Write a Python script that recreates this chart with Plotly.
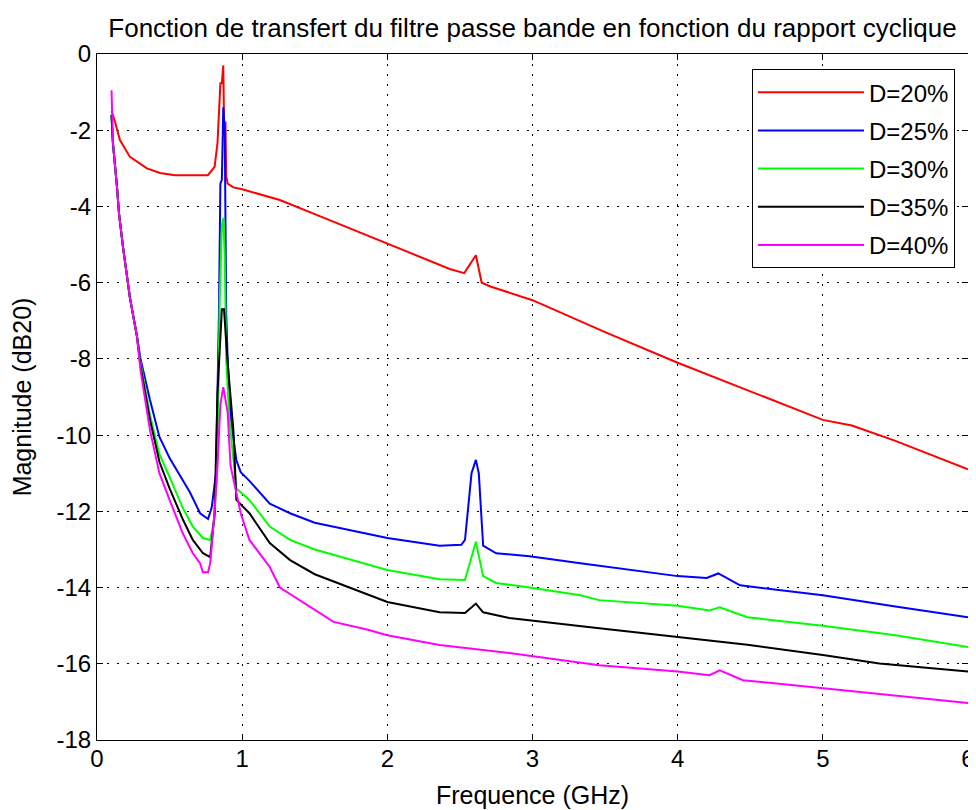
import plotly.graph_objects as go

# Frequence (GHz) / Magnitude (dB20)
freq_20 = [0.1, 0.124, 0.158, 0.227, 0.344, 0.434, 0.537, 0.764, 0.81, 0.83, 0.85, 0.86, 0.87, 0.875,
           0.885, 0.89, 0.9, 0.94, 1.0, 1.12, 1.26, 1.5, 2.0, 2.43, 2.53, 2.61, 2.65, 2.71, 3.0, 3.5,
           4.0, 4.5, 5.0, 5.2, 5.5, 6.0]
mag_20 = [-1.5, -1.78, -2.26, -2.7, -3.0, -3.12, -3.18, -3.18, -2.96, -2.34, -0.77, -0.77, -0.3, -1.8,
          -1.8, -3.2, -3.4, -3.5, -3.55, -3.67, -3.83, -4.2, -4.98, -5.64, -5.75, -5.28, -6.0, -6.1, -6.46, -7.3,
          -8.1, -8.85, -9.6, -9.75, -10.15, -10.9]

freq_25 = [0.1, 0.11, 0.138, 0.152, 0.179, 0.227, 0.275, 0.3, 0.365, 0.43, 0.5, 0.59, 0.64, 0.71, 0.765,
           0.79, 0.82, 0.84, 0.85, 0.86, 0.87, 0.88, 0.89, 0.9, 0.92, 0.96, 0.99, 1.05, 1.19, 1.33, 1.5,
           2.0, 2.36, 2.51, 2.535, 2.58, 2.61, 2.63, 2.66, 2.75, 2.98, 3.33, 3.67, 4.0, 4.2, 4.28, 4.43,
           5.0, 5.5, 6.0]
mag_25 = [-1.6, -2.35, -3.5, -4.2, -5.06, -6.4, -7.4, -8.0, -9.08, -10.05, -10.6, -11.2, -11.5, -12.05, -12.2,
          -11.9, -11.0, -6.8, -3.4, -3.3, -1.4, -2.0, -6.8, -8.0, -9.5, -10.66, -10.97, -11.2, -11.8, -12.05, -12.3,
          -12.7, -12.9, -12.88, -12.75, -11.0, -10.65, -11.0, -12.9, -13.1, -13.18, -13.36, -13.54, -13.7, -13.75,
          -13.63, -13.94, -14.2, -14.5, -14.78]

freq_30 = [0.1, 0.11, 0.138, 0.152, 0.179, 0.227, 0.275, 0.3, 0.365, 0.43, 0.5, 0.59, 0.66, 0.73, 0.78,
           0.81, 0.83, 0.845, 0.86, 0.87, 0.88, 0.89, 0.91, 0.96, 1.05, 1.19, 1.33, 1.5, 2.0, 2.36, 2.535,
           2.61, 2.66, 2.75, 2.98, 3.33, 3.46, 4.0, 4.22, 4.29, 4.48, 5.0, 5.5, 6.0]
mag_30 = [-1.6, -2.35, -3.5, -4.2, -5.06, -6.4, -7.4, -8.1, -9.47, -10.5, -11.1, -11.9, -12.4, -12.7, -12.75,
          -12.2, -10.5, -6.5, -4.5, -4.3, -5.3, -8.0, -9.5, -11.4, -11.7, -12.4, -12.75, -13.0, -13.54, -13.78, -13.8,
          -12.8, -13.7, -13.88, -14.0, -14.2, -14.33, -14.48, -14.6, -14.52, -14.78, -15.0, -15.25, -15.56]

freq_35 = [0.1, 0.11, 0.138, 0.152, 0.179, 0.227, 0.275, 0.3, 0.365, 0.43, 0.5, 0.59, 0.66, 0.73, 0.78,
           0.81, 0.83, 0.86, 0.875, 0.9, 0.94, 0.96, 1.05, 1.19, 1.33, 1.5, 2.0, 2.36, 2.535, 2.61, 2.66,
           2.84, 3.46, 4.0, 4.48, 5.0, 5.39, 6.0]
mag_35 = [-1.6, -2.35, -3.5, -4.2, -5.06, -6.4, -7.4, -8.2, -9.6, -10.7, -11.4, -12.2, -12.75, -13.1, -13.2,
          -12.05, -8.9, -6.7, -6.7, -8.1, -9.9, -11.7, -12.05, -12.83, -13.28, -13.65, -14.38, -14.65, -14.67,
          -14.42, -14.65, -14.8, -15.07, -15.3, -15.5, -15.77, -15.99, -16.2]

freq_40 = [0.1, 0.11, 0.138, 0.152, 0.179, 0.227, 0.275, 0.3, 0.365, 0.43, 0.5, 0.59, 0.66, 0.71, 0.73,
           0.765, 0.78, 0.81, 0.83, 0.85, 0.87, 0.9, 0.92, 0.99, 1.05, 1.19, 1.26, 1.63, 1.86, 2.0, 2.36,
           2.84, 3.46, 4.0, 4.22, 4.29, 4.45, 5.0, 5.5, 6.0]
mag_40 = [-0.95, -2.35, -3.5, -4.2, -5.06, -6.4, -7.4, -8.3, -9.87, -11.0, -11.7, -12.57, -13.1, -13.36, -13.6,
          -13.6, -13.36, -12.0, -10.8, -9.2, -8.74, -9.4, -10.8, -12.05, -12.75, -13.46, -14.0, -14.9, -15.1,
          -15.25, -15.51, -15.72, -16.04, -16.2, -16.3, -16.17, -16.43, -16.64, -16.85, -17.03]

series_names = ['D=20%', 'D=25%', 'D=30%', 'D=35%', 'D=40%']
series_colors = ['#ff0000', '#0000ff', '#00ff00', '#000000', '#ff00ff']

x_ticks = [0, 1, 2, 3, 4, 5, 6]
y_ticks = [0, -2, -4, -6, -8, -10, -12, -14, -16, -18]
y_ticktext = ['0', '-2', '-4', '-6', '-8', '-10', '-12', '-14', '-16', '-18']

FONT = 'Liberation Sans, Arial, sans-serif'

fig = go.Figure()
for name, color, fx, my in zip(series_names, series_colors,
                               [freq_20, freq_25, freq_30, freq_35, freq_40],
                               [mag_20, mag_25, mag_30, mag_35, mag_40]):
    fig.add_trace(go.Scatter(
        x=fx, y=my, mode='lines', name=name, legendgroup=name,
        line=dict(color=color, width=2),
    ))

axis_common = dict(
    showline=True, linecolor='black', linewidth=1, mirror='ticks',
    ticks='inside', ticklen=6, tickcolor='black', automargin=False,
    showgrid=True, gridcolor='black', gridwidth=1, griddash='2px,8px',
    zeroline=False, tickfont=dict(family=FONT, size=24, color='black'),
)

# the page body adds an 8px margin, so the figure is sized to leave room for it
fig.update_xaxes(
    range=[0, 6], tickvals=x_ticks, ticklabelstandoff=-3,
    title=dict(text='Frequence (GHz)', font=dict(family=FONT, size=25, color='black'), standoff=15),
    **axis_common,
)
fig.update_yaxes(
    range=[-18, 0], tickvals=y_ticks, ticktext=y_ticktext,
    title=dict(text='Magnitude (dB20)', font=dict(family=FONT, size=25, color='black'), standoff=17),
    **axis_common,
)

fig.update_layout(
    width=968, height=802,
    margin=dict(l=89, r=8, t=46, b=70),
    paper_bgcolor='white', plot_bgcolor='white',
    title=dict(text='Fonction de transfert du filtre passe bande en fonction du rapport cyclique',
               font=dict(family=FONT, size=26, color='black'),
               xref='paper', x=0.5, xanchor='center', y=0.975, yanchor='middle'),
    legend=dict(
        x=0.985, y=0.978, xanchor='right', yanchor='top',
        bgcolor='white', bordercolor='black', borderwidth=1,
        font=dict(family=FONT, size=24, color='black'),
        tracegroupgap=4, itemwidth=106,
    ),
    showlegend=True,
)

fig.write_html("out.html")
